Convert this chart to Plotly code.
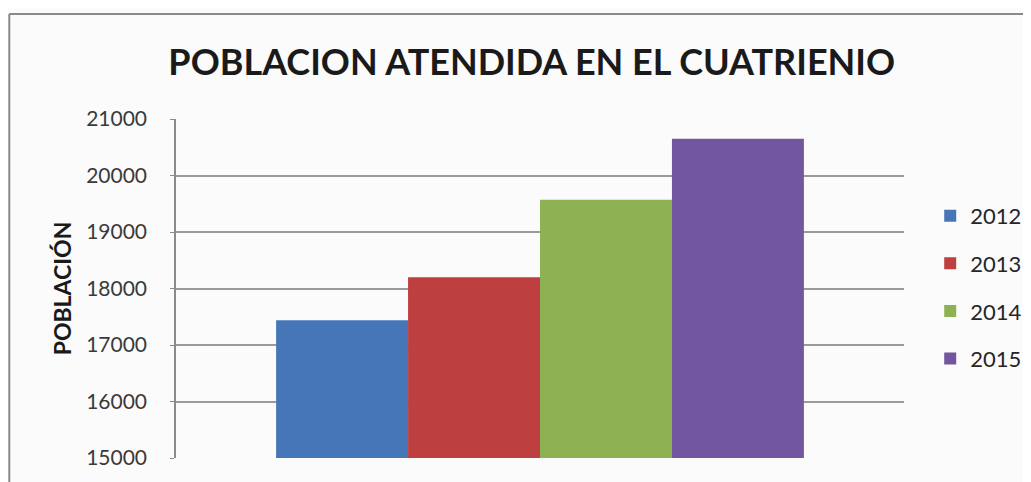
import plotly.graph_objects as go

years = ["2012", "2013", "2014", "2015"]
values = [17440, 18200, 19570, 20650]
colors = ["#4676b8", "#be3f3f", "#8db153", "#7356a0"]
category = ["Población"]

fig = go.Figure()
for yr, v, c in zip(years, values, colors):
    fig.add_trace(go.Bar(
        x=category, y=[v], name=yr, marker=dict(color=c, line=dict(width=0)),
        legendgroup=yr,
    ))

fig.update_layout(
    width=1031, height=482,
    paper_bgcolor="#fbfbfb", plot_bgcolor="#fbfbfb",
    margin=dict(l=168, r=132, t=111, b=32),
    barmode="group", bargap=0.275, bargroupgap=0,
    title=dict(text="<b>POBLACION ATENDIDA EN EL CUATRIENIO</b>",
               x=0.508, xanchor="center", y=0.888, yanchor="middle",
               font=dict(family="Lato", size=36, color="#1a1a1a")),
    font=dict(family="Lato", color="#3a3a3a"),
    showlegend=True,
    legend=dict(x=1.036, xanchor="left", y=0.776, yanchor="top",
                font=dict(size=22, color="#262626"),
                traceorder="grouped", tracegroupgap=16,
                itemwidth=30, bgcolor="rgba(0,0,0,0)"),
    shapes=[
        dict(type="line", xref="paper", yref="paper", x0=-0.229, x1=1.3, y0=1.31, y1=1.31,
             line=dict(color="#8a8a8a", width=2)),
        dict(type="line", xref="paper", yref="paper", x0=-0.229, x1=-0.229, y0=1.31, y1=-0.2,
             line=dict(color="#8a8a8a", width=2)),
    ],
    annotations=[
        dict(text="<b>POBLACIÓN</b>", xref="paper", yref="paper", x=-0.1568, y=0.5,
             xanchor="center", yanchor="middle", textangle=-90, showarrow=False,
             font=dict(family="Lato", size=23, color="#1a1a1a")),
    ],
)
fig.update_yaxes(range=[15000, 21000], dtick=1000, tickformat="d", showgrid=True,
                 gridcolor="#9a9a9a", gridwidth=1.5, showline=True, linecolor="#8a8a8a",
                 linewidth=1.5, ticks="outside", ticklen=4, tickcolor="#8a8a8a",
                 ticklabelstandoff=19,
                 tickfont=dict(size=21, color="#3a3a3a"), zeroline=False)
fig.update_xaxes(showticklabels=False, showgrid=False, showline=False, zeroline=False)

fig.write_html("out.html")
